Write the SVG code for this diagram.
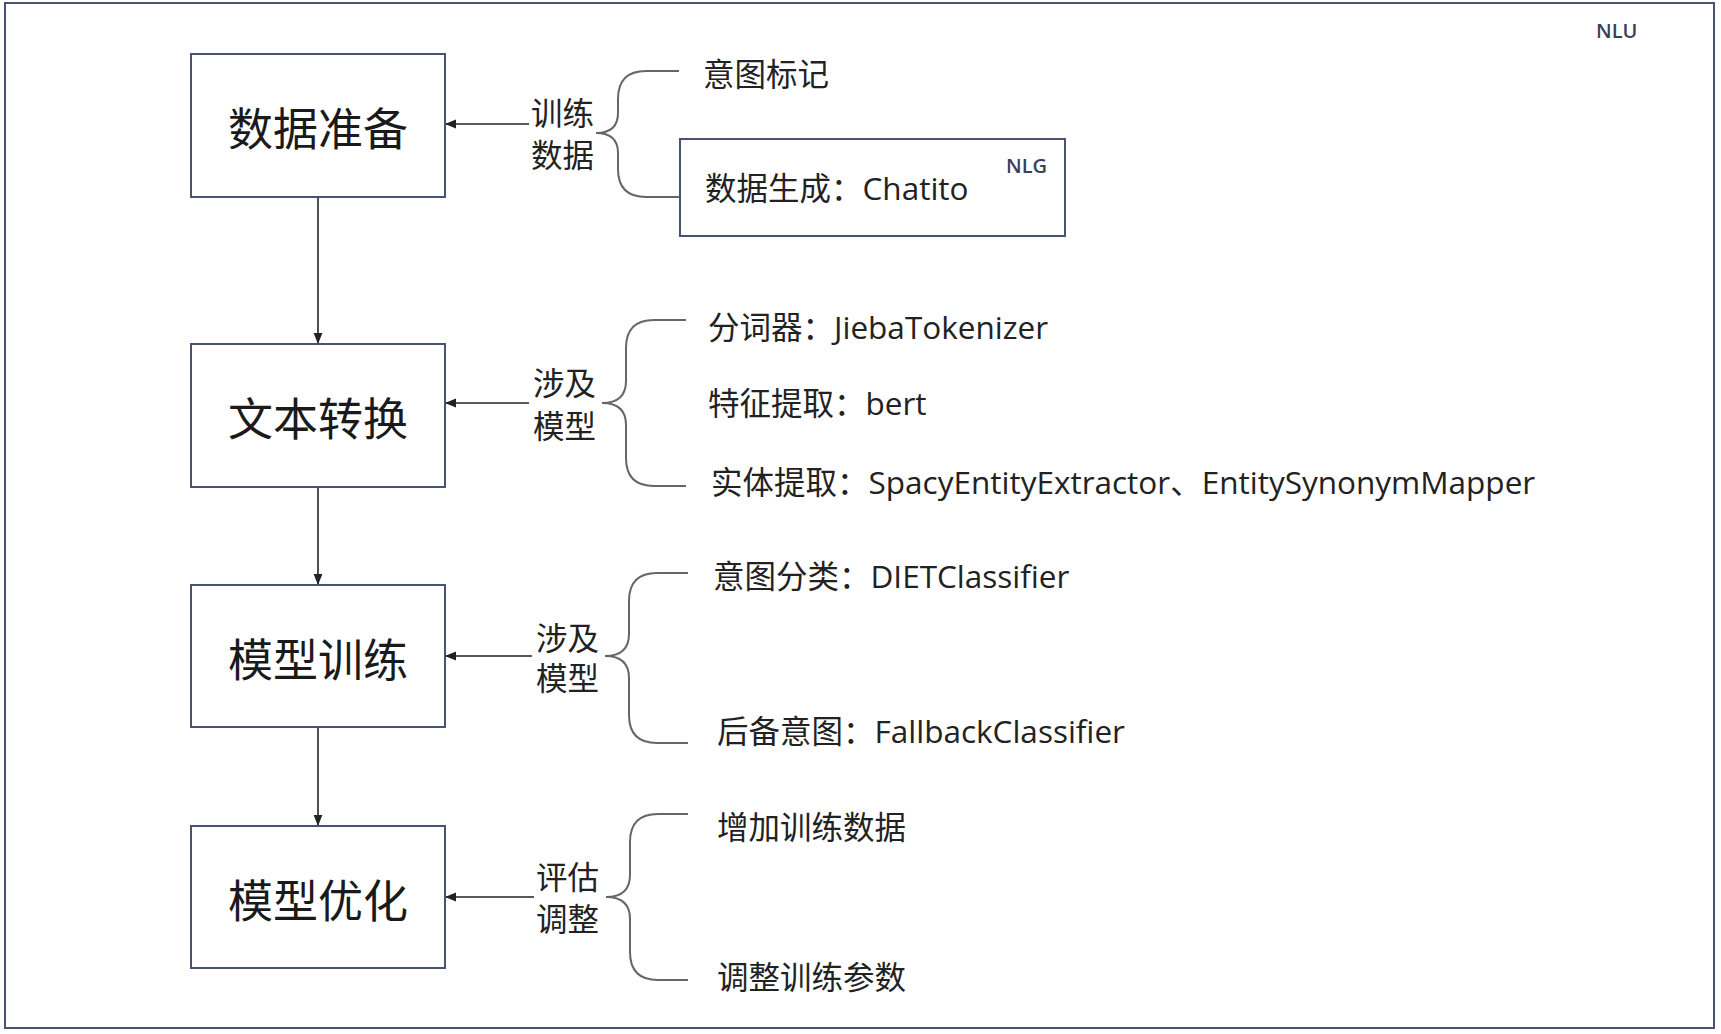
<svg xmlns="http://www.w3.org/2000/svg" width="1721" height="1034" viewBox="0 0 1721 1034">
<defs>
<style>
.box{fill:#fff;stroke:#4a5274;stroke-width:2}
.main{font-family:"Noto Sans CJK SC","Noto Sans",sans-serif;font-size:45px;fill:#1a1a1a;text-anchor:middle;dominant-baseline:central}
.t{font-family:"Open Sans","Noto Sans CJK SC",sans-serif;font-size:31.5px;fill:#222;dominant-baseline:central}
.tag{font-family:"Open Sans","Noto Sans",sans-serif;font-size:20px;font-weight:600;fill:#3a3f5c}
.conn{stroke:#222;stroke-width:1.6;fill:none}
.brace{stroke:#666;stroke-width:2;fill:none}
</style>
<marker id="ah" viewBox="0 0 10 10" refX="10" refY="5" markerWidth="11" markerHeight="11" markerUnits="userSpaceOnUse" orient="auto">
<path d="M0,1 L10,5 L0,9 Z" fill="#222"/>
</marker>
</defs>
<rect width="1721" height="1034" fill="#fff"/>
<rect id="frame" x="5" y="3" width="1709" height="1025" fill="#fff" stroke="#4a5274" stroke-width="2"/>
<text class="tag" x="1596" y="38">NLU</text>

<g id="connectors">
<line class="conn" x1="318" y1="197" x2="318" y2="344" marker-end="url(#ah)"/>
<line class="conn" x1="318" y1="487" x2="318" y2="585" marker-end="url(#ah)"/>
<line class="conn" x1="318" y1="727" x2="318" y2="826" marker-end="url(#ah)"/>
<line class="conn" x1="529" y1="124" x2="445" y2="124" marker-end="url(#ah)"/>
<line class="conn" x1="529" y1="403" x2="445" y2="403" marker-end="url(#ah)"/>
<line class="conn" x1="532" y1="656" x2="445" y2="656" marker-end="url(#ah)"/>
<line class="conn" x1="534" y1="897" x2="445" y2="897" marker-end="url(#ah)"/>
<path class="brace" d="M679,71 H646 Q618,71 618,99 V113 Q618,133 596,133 Q618,133 618,153 V169 Q618,197 646,197 H680"/>
<path class="brace" d="M686,320 H654 Q626,320 626,348 V381 Q626,403 602,403 Q626,403 626,425 V458 Q626,486 654,486 H686"/>
<path class="brace" d="M688,573 H657 Q629,573 629,601 V634 Q629,656 605,656 Q629,656 629,678 V715 Q629,743 657,743 H688"/>
<path class="brace" d="M688,814 H658 Q630,814 630,842 V875 Q630,897 606,897 Q630,897 630,919 V952 Q630,980 658,980 H688"/>
</g>

<g id="n1"><rect class="box" x="191" y="54" width="254" height="143"/><text class="main" x="318" y="126">数据准备</text></g>
<g id="n2"><rect class="box" x="191" y="344" width="254" height="143"/><text class="main" x="318" y="416">文本转换</text></g>
<g id="n3"><rect class="box" x="191" y="585" width="254" height="142"/><text class="main" x="318" y="657">模型训练</text></g>
<g id="n4"><rect class="box" x="191" y="826" width="254" height="142"/><text class="main" x="318" y="898">模型优化</text></g>

<g id="l1"><text class="t" x="531" y="112">训练</text><text class="t" x="531" y="154">数据</text></g>
<g id="l2"><text class="t" x="533" y="382">涉及</text><text class="t" x="533" y="425">模型</text></g>
<g id="l3"><text class="t" x="536" y="637">涉及</text><text class="t" x="536" y="677">模型</text></g>
<g id="l4"><text class="t" x="536" y="876">评估</text><text class="t" x="536" y="918">调整</text></g>

<g id="i1"><text class="t" x="703" y="73">意图标记</text></g>
<g id="i2"><rect class="box" x="680" y="139" width="385" height="97"/><text class="t" x="705" y="187">数据生成：Chatito</text><text class="tag" x="1006" y="173">NLG</text></g>
<g id="i3"><text class="t" x="708" y="326">分词器：JiebaTokenizer</text></g>
<g id="i4"><text class="t" x="708" y="402">特征提取：bert</text></g>
<g id="i5"><text class="t" x="711" y="481">实体提取：SpacyEntityExtractor、EntitySynonymMapper</text></g>
<g id="i6"><text class="t" x="713" y="575">意图分类：DIETClassifier</text></g>
<g id="i7"><text class="t" x="717" y="730">后备意图：FallbackClassifier</text></g>
<g id="i8"><text class="t" x="717" y="826">增加训练数据</text></g>
<g id="i9"><text class="t" x="717" y="976">调整训练参数</text></g>
</svg>
